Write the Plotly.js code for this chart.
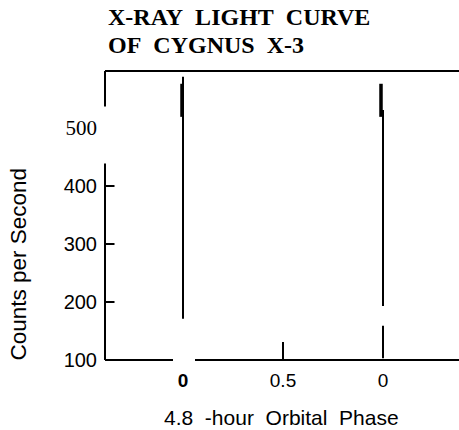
<!DOCTYPE html>
<html>
<head>
<meta charset="utf-8">
<script src="https://cdn.plot.ly/plotly-3.0.1.min.js"></script>
<style>html,body{margin:0;padding:0;background:#fff;}#chart{width:459px;height:430px;}</style>
</head>
<body>
<div id="chart"></div>
<script>
// ---- data ----
var titleLines = ["X-RAY\u00a0 LIGHT\u00a0 CURVE", "OF\u00a0 CYGNUS\u00a0 X-3"];
var yTitle = "Counts per Second";
var xTitle = "4.8\u00a0 -hour\u00a0 Orbital\u00a0 Phase";
var yTickVals = [100, 200, 300, 400, 500];
var yTickText = ["100", "200", "300", "400", "<span style=\"font-family:'Liberation Serif';font-size:21px\">500</span>"];
var yTickMarkVals = [200, 300, 400];
var xTickVals = [0, 0.5, 1];
var xTickText = ["<b>0</b>", "0.5", "0"];
// vertical segments of the light curve (phase, low count, high count)
var spikePhase = [0, -0.005, 0.5, 1, 0.99, 1];
var spikeLow   = [171, 519, 100, 193, 519, 103];
var spikeHigh  = [588, 576, 131, 531, 576, 159];

// ---- styles ----
var spikeWidth = [2, 3.5, 2, 2, 3.5, 2];
var W = 459, H = 430, mL = 105, mR = 0, mT = 71, mB = 70;
var plotH = H - mT - mB, plotW = W - mL - mR;
function py(p) { return (H - mB - p) / plotH; }   // pixel y -> paper y
function px(p) { return (p - mL) / plotW; }       // pixel x -> paper x

var traces = spikePhase.map(function (p, i) {
  return {
    type: 'scatter', mode: 'lines',
    x: [p, p], y: [spikeLow[i], spikeHigh[i]],
    line: {color: '#000', width: spikeWidth[i]},
    hoverinfo: 'skip', showlegend: false
  };
});

function ls() { return {color: '#000', width: 2}; }
var shapes = [
  {type: 'line', xref: 'paper', yref: 'paper', x0: 0, x1: 1, y0: 1, y1: 1, line: ls()},
  {type: 'line', xref: 'paper', yref: 'paper', x0: 0, x1: px(173), y0: 0, y1: 0, line: ls()},
  {type: 'line', xref: 'paper', yref: 'paper', x0: px(195), x1: 1, y0: 0, y1: 0, line: ls()}
];

// frame segments and tick marks drawn as head-less annotation arrows (top layer)
function seg(x, xref, y, yref, ax, ay) {
  return {text: '', x: x, xref: xref, y: y, yref: yref, ax: ax, ay: ay, axref: 'pixel', ayref: 'pixel',
          showarrow: true, arrowhead: 0, arrowwidth: 2, arrowcolor: '#000', standoff: 0, startstandoff: 0};
}
var annotations = [
  seg(0, 'paper', 1, 'paper', 0, 108 - mT),
  seg(0, 'paper', 0, 'paper', 0, -(H - mB - 162))
];
yTickMarkVals.forEach(function (v) { annotations.push(seg(0, 'paper', v, 'y', 11, 0)); });

annotations.push(
  {text: '<b>' + titleLines[0] + '</b>', xref: 'paper', yref: 'paper', x: px(106), y: py(16.5),
   xanchor: 'left', yanchor: 'middle', showarrow: false,
   font: {family: 'Liberation Serif, Times New Roman, serif', size: 24, color: '#000'}},
  {text: '<b>' + titleLines[1] + '</b>', xref: 'paper', yref: 'paper', x: px(106), y: py(45),
   xanchor: 'left', yanchor: 'middle', showarrow: false,
   font: {family: 'Liberation Serif, Times New Roman, serif', size: 24, color: '#000'}},
  {text: yTitle, xref: 'paper', yref: 'paper', x: px(18), y: py(264.5), textangle: -90,
   xanchor: 'center', yanchor: 'middle', showarrow: false,
   font: {family: 'Liberation Sans, Arial, sans-serif', size: 22.5, color: '#000'}},
  {text: xTitle, xref: 'paper', yref: 'paper', x: px(281.5), y: py(417),
   xanchor: 'center', yanchor: 'middle', showarrow: false,
   font: {family: 'Liberation Sans, Arial, sans-serif', size: 21, color: '#000'}}
);

var layout = {
  width: W, height: H,
  margin: {l: mL, r: mR, t: mT, b: mB, pad: 0},
  paper_bgcolor: '#fff', plot_bgcolor: '#fff',
  showlegend: false,
  font: {family: 'Liberation Sans, Arial, sans-serif', color: '#000'},
  xaxis: {
    range: [-0.39, 1.38], showgrid: false, zeroline: false, showline: false,
    ticks: '', tickvals: xTickVals, ticktext: xTickText,
    tickfont: {size: 19, family: 'Liberation Sans, Arial, sans-serif', color: '#000'},
    ticklabelstandoff: 7
  },
  yaxis: {
    range: [100, 598], showgrid: false, zeroline: false, showline: false,
    ticks: '', tickvals: yTickVals, ticktext: yTickText,
    tickfont: {size: 20, family: 'Liberation Sans, Arial, sans-serif', color: '#000'},
    ticklabelstandoff: 7
  },
  shapes: shapes,
  annotations: annotations
};

Plotly.newPlot('chart', traces, layout, {staticPlot: true, displayModeBar: false});
</script>
</body>
</html>
